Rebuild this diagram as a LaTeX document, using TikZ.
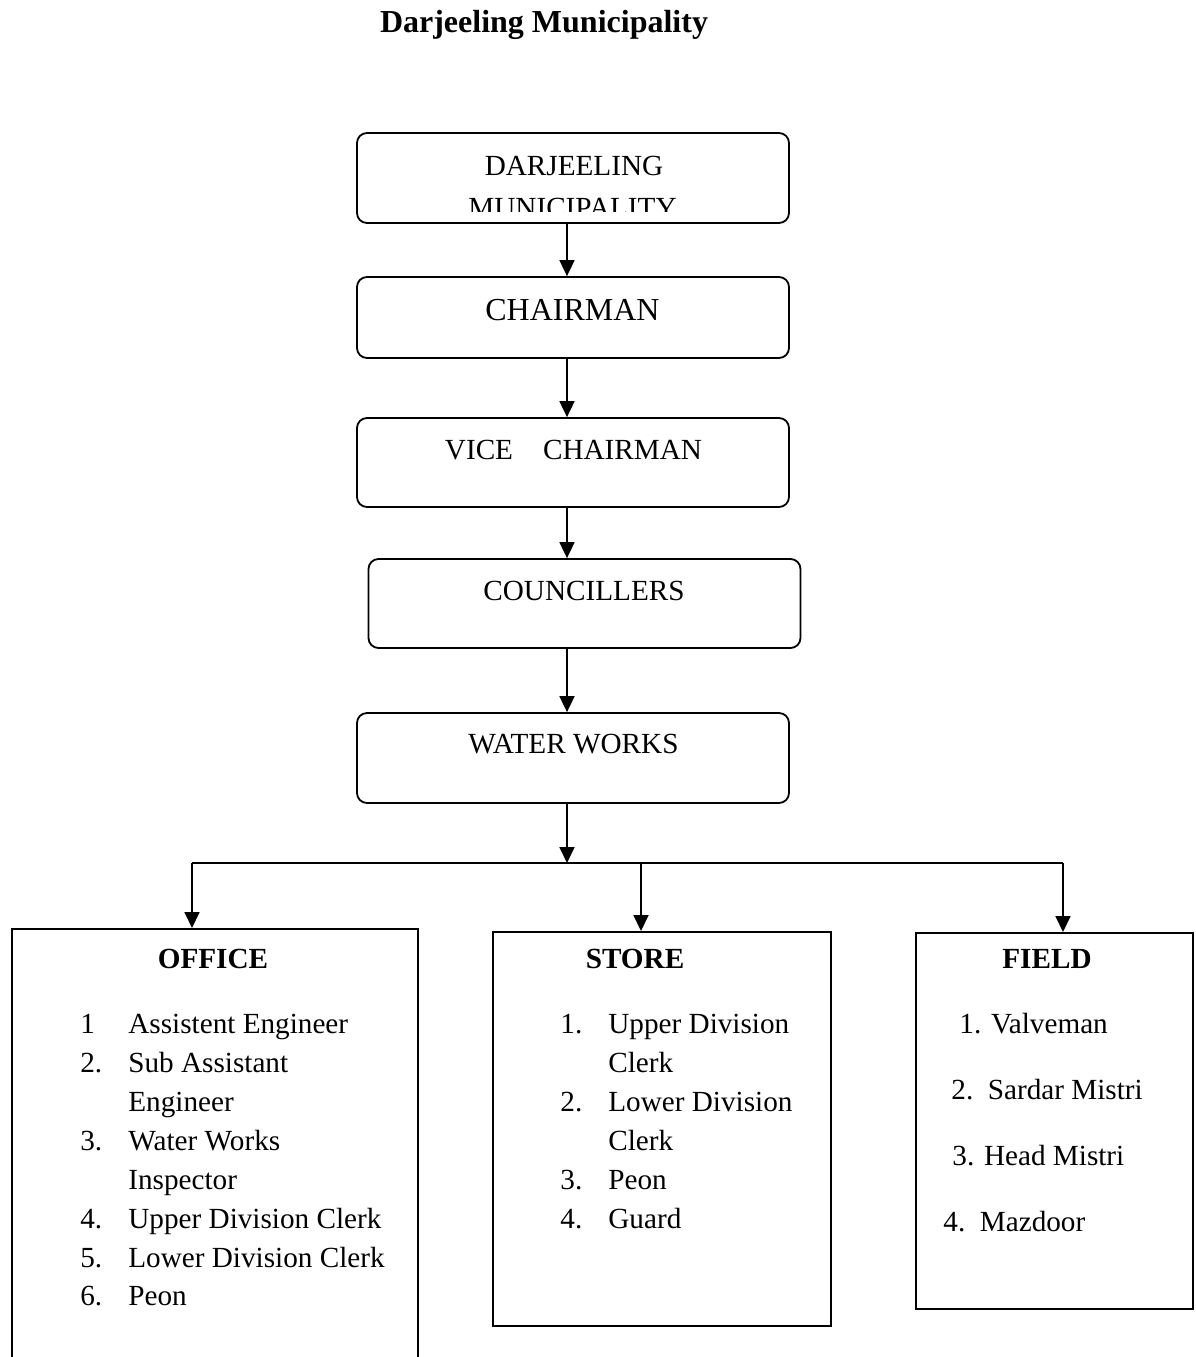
\documentclass[tikz,border=0pt]{standalone}
\usepackage{fontspec}
\setmainfont{Liberation Serif}
\usetikzlibrary{arrows.meta,positioning}

\begin{document}
\begin{tikzpicture}[
  x=0.5pt, y=-0.5pt,
  rbox/.style={draw, rounded corners=5pt, line width=0.9pt, inner sep=0pt, minimum width=216pt},
  sbox/.style={draw, line width=0.9pt, inner sep=0pt, anchor=north west},
  txt/.style={anchor=base, inner sep=0pt, font=\fontsize{14.6}{17}\selectfont},
  item/.style={anchor=base west, inner sep=0pt, font=\fontsize{14.6}{17}\selectfont},
  head/.style={anchor=base, inner sep=0pt, font=\fontsize{14.6}{17}\selectfont\bfseries},
  arr/.style={-{Triangle[length=8pt, width=7.5pt]}, line width=0.9pt},
]
\useasboundingbox (0,0) rectangle (1196,1357);

\node[anchor=base, inner sep=0pt, font=\fontsize{16}{19}\selectfont\bfseries] (title) at (544,32) {Darjeeling Municipality};

% chain of rounded boxes
\node[rbox, minimum height=45pt] (dm) at (573,178) {};
\node[rbox, minimum height=40.5pt] (chair) at (573,317.5) {};
\node[rbox, minimum height=44.5pt] (vice) at (573,462.5) {};
\node[rbox, minimum height=44.5pt] (coun) at (584.5,603.5) {};
\node[rbox, minimum height=45pt] (ww) at (573,758) {};

\begin{scope}
  \clip (357,133) rectangle (789,211);
  \node[txt] (dmtop) at (574,175) {DARJEELING};
  \node[txt] (dmbot) at (572.5,217) {MUNICIPALITY};
\end{scope}
\node[txt, font=\fontsize{16}{19}\selectfont] (chairtxt) at (572.5,320) {CHAIRMAN};
\node[txt] (vicetxt) at (573.5,459) {VICE\hspace{15pt}CHAIRMAN};
\node[txt] (countxt) at (584,600) {COUNCILLERS};
\node[txt] (wwtxt) at (573.5,753) {WATER WORKS};

% sections
\node[sbox, minimum width=203pt, minimum height=226pt] (office) at (11,928) {};
\node[sbox, minimum width=169pt, minimum height=197pt] (store) at (492,931) {};
\node[sbox, minimum width=138.5pt, minimum height=188pt] (field) at (915,932) {};

\node[head] (offhead) at (213,968) {OFFICE};
\node[head] (stohead) at (635,968) {STORE};
\node[head] (fldhead) at (1047,968) {FIELD};

\foreach \yy/\num [count=\k] in {1033/1, 1072/2., 1150/3., 1228/4., 1267/5., 1305/6.}
  \node[item] (offn\k) at (80,\yy) {\num};
\foreach \yy/\lab [count=\k] in {1033/Assistent Engineer, 1072/Sub Assistant, 1111/Engineer,
    1150/Water Works, 1189/Inspector, 1228/Upper Division Clerk, 1267/Lower Division Clerk, 1305/Peon}
  \node[item] (offt\k) at (128,\yy) {\lab};

\foreach \yy/\num [count=\k] in {1033/1., 1111/2., 1189/3., 1228/4.}
  \node[item] (ston\k) at (560,\yy) {\num};
\foreach \yy/\lab [count=\k] in {1033/Upper Division, 1072/Clerk, 1111/Lower Division,
    1150/Clerk, 1189/Peon, 1228/Guard}
  \node[item] (stot\k) at (608,\yy) {\lab};

\node[item] (fld1) at (959,1033) {1. Valveman};
\node[item] (fld2) at (951,1099) {2.\ \ Sardar Mistri};
\node[item] (fld3) at (952,1165) {3. Head Mistri};
\node[item] (fld4) at (943,1231) {4.\ \ Mazdoor};

% connectors
\coordinate (spine) at (567,0);
\draw[arr] (dm.south -| spine) -- (chair.north -| spine);
\draw[arr] (chair.south -| spine) -- (vice.north -| spine);
\draw[arr] (vice.south -| spine) -- (coun.north -| spine);
\draw[arr] (coun.south -| spine) -- (ww.north -| spine);

\coordinate (split) at (567,863);
\coordinate (tooff) at (192,863);
\coordinate (tosto) at (641,863);
\coordinate (tofld) at (1063,863);
\draw[arr] (ww.south -| split) -- (split);
\draw[line width=0.9pt] (tooff) -- (tofld);
\draw[arr] (tooff) -- (tooff |- office.north);
\draw[arr] (tosto) -- (tosto |- store.north);
\draw[arr] (tofld) -- (tofld |- field.north);
\end{tikzpicture}
\end{document}
